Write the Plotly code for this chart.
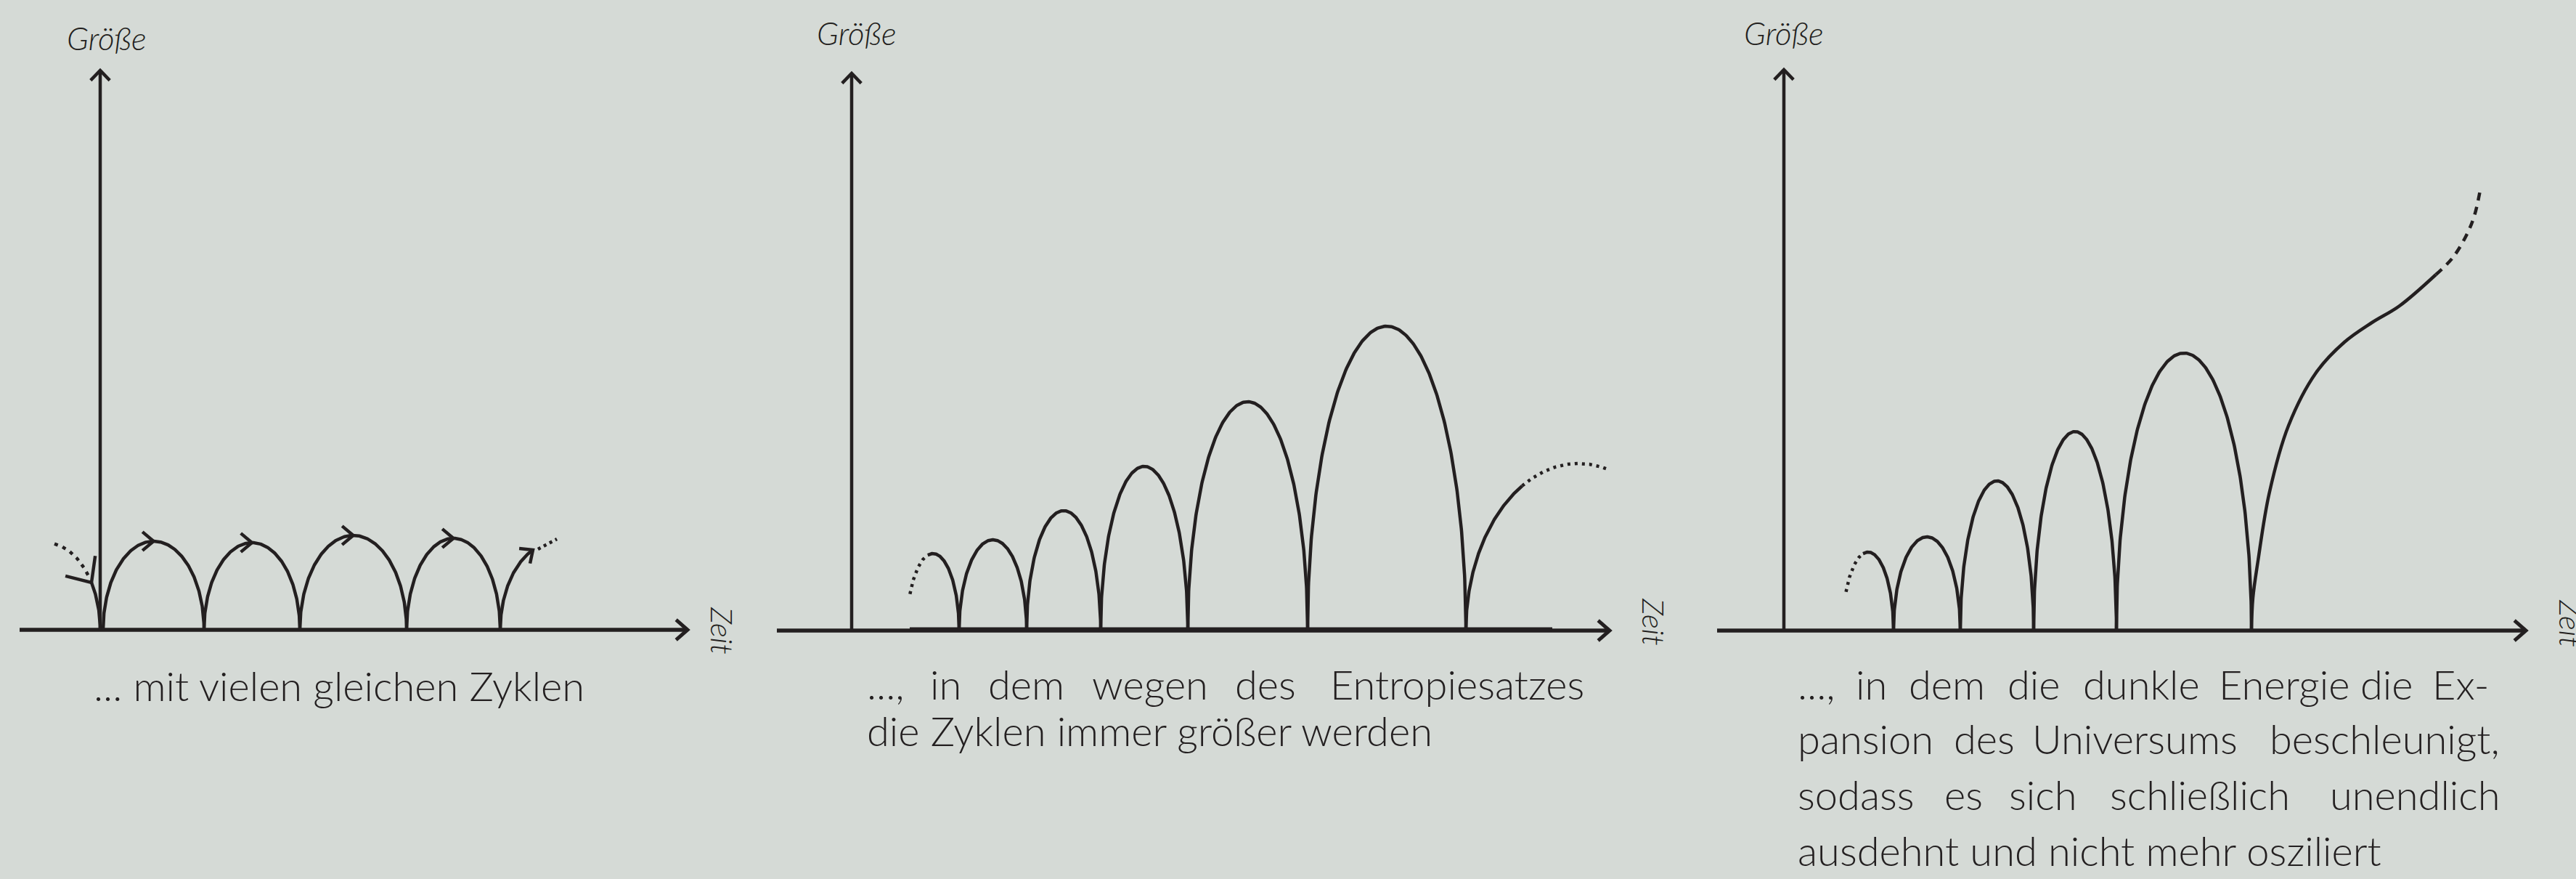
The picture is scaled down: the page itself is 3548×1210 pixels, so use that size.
import numpy as np
import plotly.graph_objects as go

# ---------------- data (time, size) ----------------
# Panel 1: "mit vielen gleichen Zyklen"
p1_zeros = [0.04, 1.43, 2.75, 4.22, 5.51]
p1_peaks = [1.22, 1.20, 1.30, 1.26]
p1_prev = dict(end=0.0, width=1.5, height=1.2)          # previous cycle falling into the axis
p1_next = dict(start=5.51, width=1.5, height=1.2)       # next cycle, only its beginning
p1_next_dots_t = [6.03, 6.29]
p1_next_dots_s = [1.11, 1.25]
p1_axis_t = (-1.11, 8.09)
p1_axis_s = 7.70

# Panel 2: cycles growing because of entropy
p2_first = dict(end=1.48, width=0.72, height=1.06)
p2_zeros = [1.48, 2.41, 3.43, 4.63, 6.28, 8.46]
p2_peaks = [1.25, 1.65, 2.26, 3.15, 4.19]
p2_next = dict(start=8.46, width=3.1, height=2.3)
p2_base_t = (0.80, 9.65)
p2_axis_t = (-1.03, 10.44)
p2_axis_s = 7.67

# Panel 3: dark energy, final runaway expansion
p3_first = dict(end=1.51, width=0.70, height=1.08)
p3_zeros = [1.51, 2.43, 3.44, 4.58, 6.44]
p3_peaks = [1.29, 2.06, 2.74, 3.82]
p3_exp_t = [6.44, 6.46, 6.53, 6.685, 6.95, 7.33, 7.72, 8.10, 8.48, 8.98]
p3_exp_s = [0.00, 0.45, 0.96, 1.89, 2.82, 3.55, 3.97, 4.24, 4.47, 4.90]
p3_dash_t = [8.98, 9.21, 9.40, 9.51, 9.59]
p3_dash_s = [4.90, 5.13, 5.44, 5.71, 6.06]
p3_axis_t = (-0.92, 10.22)
p3_axis_s = 7.72

# texts
y_label = "Größe"
x_label = "Zeit"
p1_caption = "... mit vielen gleichen Zyklen"
p2_line1 = ["...,", "in", "dem", "wegen", "des", "Entropiesatzes"]
p2_line2 = "die Zyklen immer größer werden"
p3_line1 = ["...,", "in", "dem", "die", "dunkle", "Energie", "die", "Ex-"]
p3_line2 = ["pansion", "des", "Universums", "beschleunigt,"]
p3_line3 = ["sodass", "es", "sich", "schließlich", "unendlich"]
p3_line4 = "ausdehnt und nicht mehr osziliert"

# ---------------- layout constants (pixels) ----------------
W, H = 3548, 1210
S = 100.0                     # px per data unit
BG = "#d5dad6"
INK = "#231f20"
LW = 4.5
origins = [(138, 867), (1173, 868), (2457, 868)]
FONT = "Lato"
CAP_SIZE = 56

# word spans (left, right) in px for the justified caption lines
p2_line1_spans = [(1193, 1266), (1283, 1322), (1360, 1466), (1501, 1666),
                  (1694, 1792), (1818, 2183)]
p3_line1_spans = [(2475, 2520), (2557, 2597), (2627, 2735), (2767, 2835),
                  (2865, 3033), (3063, 3230), (3254, 3321), (3374, 3430)]
p3_line2_spans = [(2475, 2671), (2691, 2775), (2795, 3086), (3110, 3444)]
p3_line3_spans = [(2475, 2641), (2678, 2731), (2765, 2862), (2899, 3160),
                  (3197, 3444)]

P = 0.5


def arch(t0, t1, h, f0=0.0, f1=1.0, n=240):
    phi = np.linspace(np.arccos(1 - 2 * f0), np.arccos(1 - 2 * f1), n)
    f = (1 - np.cos(phi)) / 2
    x = t0 + (t1 - t0) * f
    y = h * np.abs(np.sin(phi)) ** (2 * P)
    return x, y


def chevron(tx, ty, ang_deg, L_px, half_deg):
    L = L_px / S
    a = np.radians(ang_deg)
    h = np.radians(half_deg)
    b1 = a + np.pi - h
    b2 = a + np.pi + h
    return ([tx + L * np.cos(b1), tx, tx + L * np.cos(b2)],
            [ty + L * np.sin(b1), ty, ty + L * np.sin(b2)])


fig = go.Figure()


def line(k, x, y, width=LW, dash=None, shape="linear"):
    ax = "" if k == 1 else str(k)
    fig.add_trace(go.Scatter(
        x=list(x), y=list(y), mode="lines", xaxis="x" + ax, yaxis="y" + ax,
        line=dict(color=INK, width=width, dash=dash, shape=shape),
        hoverinfo="skip", showlegend=False))


def axes(k, t_ext, s_top):
    line(k, [t_ext[0], t_ext[1]], [0, 0], width=5.5)
    line(k, [0, 0], [0, s_top], width=4.5)
    cx, cy = chevron(t_ext[1], 0, 0, 21, 41)
    line(k, cx, cy, width=5)
    cx, cy = chevron(0, s_top, 90, 19, 44)
    line(k, cx, cy, width=4.5)


def cycles(k, zeros, peaks):
    for i, h in enumerate(peaks):
        x, y = arch(zeros[i], zeros[i + 1], h)
        line(k, x, y)


# ---- panel 1 ----
axes(1, p1_axis_t, p1_axis_s)
pv = p1_prev
x, y = arch(pv["end"] - pv["width"], pv["end"], pv["height"], 0.58, 0.893)
line(1, x, y, dash="5px,7px")
x, y = arch(pv["end"] - pv["width"], pv["end"], pv["height"], 0.92, 1.0)
line(1, x, y)
cx, cy = chevron(x[0], y[0], -56, 37, 42)
line(1, cx, cy)
cycles(1, p1_zeros, p1_peaks)
for i, h in enumerate(p1_peaks):
    cx, cy = chevron((p1_zeros[i] + p1_zeros[i + 1]) / 2, h, 0, 20, 40)
    line(1, cx, cy)
nx = p1_next
x, y = arch(nx["start"], nx["start"] + nx["width"], nx["height"], 0.0, 0.30)
line(1, x, y)
cx, cy = chevron(x[-1], y[-1], 36, 19, 42)
line(1, cx, cy)
line(1, p1_next_dots_t, p1_next_dots_s, dash="4px,5px")

# ---- panel 2 ----
axes(2, p2_axis_t, p2_axis_s)
line(2, p2_base_t, [0.02, 0.02], width=5)
fs = p2_first
x, y = arch(fs["end"] - fs["width"], fs["end"], fs["height"], 0.06, 0.40)
line(2, x, y, dash="4px,6px")
x, y = arch(fs["end"] - fs["width"], fs["end"], fs["height"], 0.40, 1.0)
line(2, x, y)
cycles(2, p2_zeros, p2_peaks)
nx = p2_next
x, y = arch(nx["start"], nx["start"] + nx["width"], nx["height"], 0.0, 0.25)
line(2, x, y)
x, y = arch(nx["start"], nx["start"] + nx["width"], nx["height"], 0.25, 0.632)
line(2, x, y, dash="4px,6px")

# ---- panel 3 ----
axes(3, p3_axis_t, p3_axis_s)
fs = p3_first
x, y = arch(fs["end"] - fs["width"], fs["end"], fs["height"], 0.065, 0.40)
line(3, x, y, dash="4px,6px")
x, y = arch(fs["end"] - fs["width"], fs["end"], fs["height"], 0.40, 1.0)
line(3, x, y)
cycles(3, p3_zeros, p3_peaks)
line(3, p3_exp_t, p3_exp_s, shape="spline")
line(3, p3_dash_t, p3_dash_s, dash="11px,9px", shape="spline")

# ---------------- axes / layout ----------------
exts = [(p1_axis_t, p1_axis_s), (p2_axis_t, p2_axis_s), (p3_axis_t, p3_axis_s)]
lay = {}
for k, ((ox, oy), (te, st)) in enumerate(zip(origins, exts), start=1):
    xr = [te[0] - 0.2, te[1] + 0.2]
    yr = [-0.25, st + 0.25]
    sfx = "" if k == 1 else str(k)
    lay["xaxis" + sfx] = dict(range=xr, visible=False, fixedrange=True,
                              domain=[(ox + xr[0] * S) / W, (ox + xr[1] * S) / W],
                              anchor="y" + sfx)
    lay["yaxis" + sfx] = dict(range=yr, visible=False, fixedrange=True,
                              domain=[1 - (oy - yr[0] * S) / H, 1 - (oy - yr[1] * S) / H],
                              anchor="x" + sfx)

ann = []


def text(t, xpx, basepx, size=CAP_SIZE, anchor="left", italic=False, angle=0, ymid=None):
    yc = ymid if ymid is not None else basepx - 0.39 * size
    ann.append(dict(text=t, x=xpx / W, y=1 - yc / H, xref="paper", yref="paper",
                    xanchor=anchor, yanchor="middle", showarrow=False, textangle=angle,
                    borderpad=0,
                    font=dict(family=FONT, size=size, color=INK, weight=300,
                              style="italic" if italic else "normal")))


def justified(words, spans, base):
    n = len(words)
    for i, (w, (l, r)) in enumerate(zip(words, spans)):
        if i == 0:
            text(w, l, base, anchor="left")
        elif i == n - 1:
            text(w, r, base, anchor="right")
        else:
            text(w, (l + r) / 2, base, anchor="center")


# axis labels
for (gx, gy) in [(147, 52), (1180, 45), (2457, 45)]:
    text(y_label, gx, None, size=44, anchor="center", italic=True, ymid=gy)
for (zx, zy) in [(995, 868), (2278, 856), (3541, 858)]:
    text(x_label, zx, None, size=42, anchor="center", italic=True, angle=90, ymid=zy)

# captions
text(p1_caption, 467, 965, anchor="center")
justified(p2_line1, p2_line1_spans, 963)
text(p2_line2, 1193, 1027)
justified(p3_line1, p3_line1_spans, 963)
justified(p3_line2, p3_line2_spans, 1038)
justified(p3_line3, p3_line3_spans, 1115)
text(p3_line4, 2475, 1192)

fig.update_layout(width=W, height=H, margin=dict(l=0, r=0, t=0, b=0),
                  paper_bgcolor=BG, plot_bgcolor=BG, showlegend=False,
                  annotations=ann, **lay)
fig.write_html("out.html", config={"displayModeBar": False},
               post_script="document.body.style.margin='0px';"
                           "document.body.style.overflow='hidden';"
                           "document.body.style.backgroundColor='" + BG + "';")
